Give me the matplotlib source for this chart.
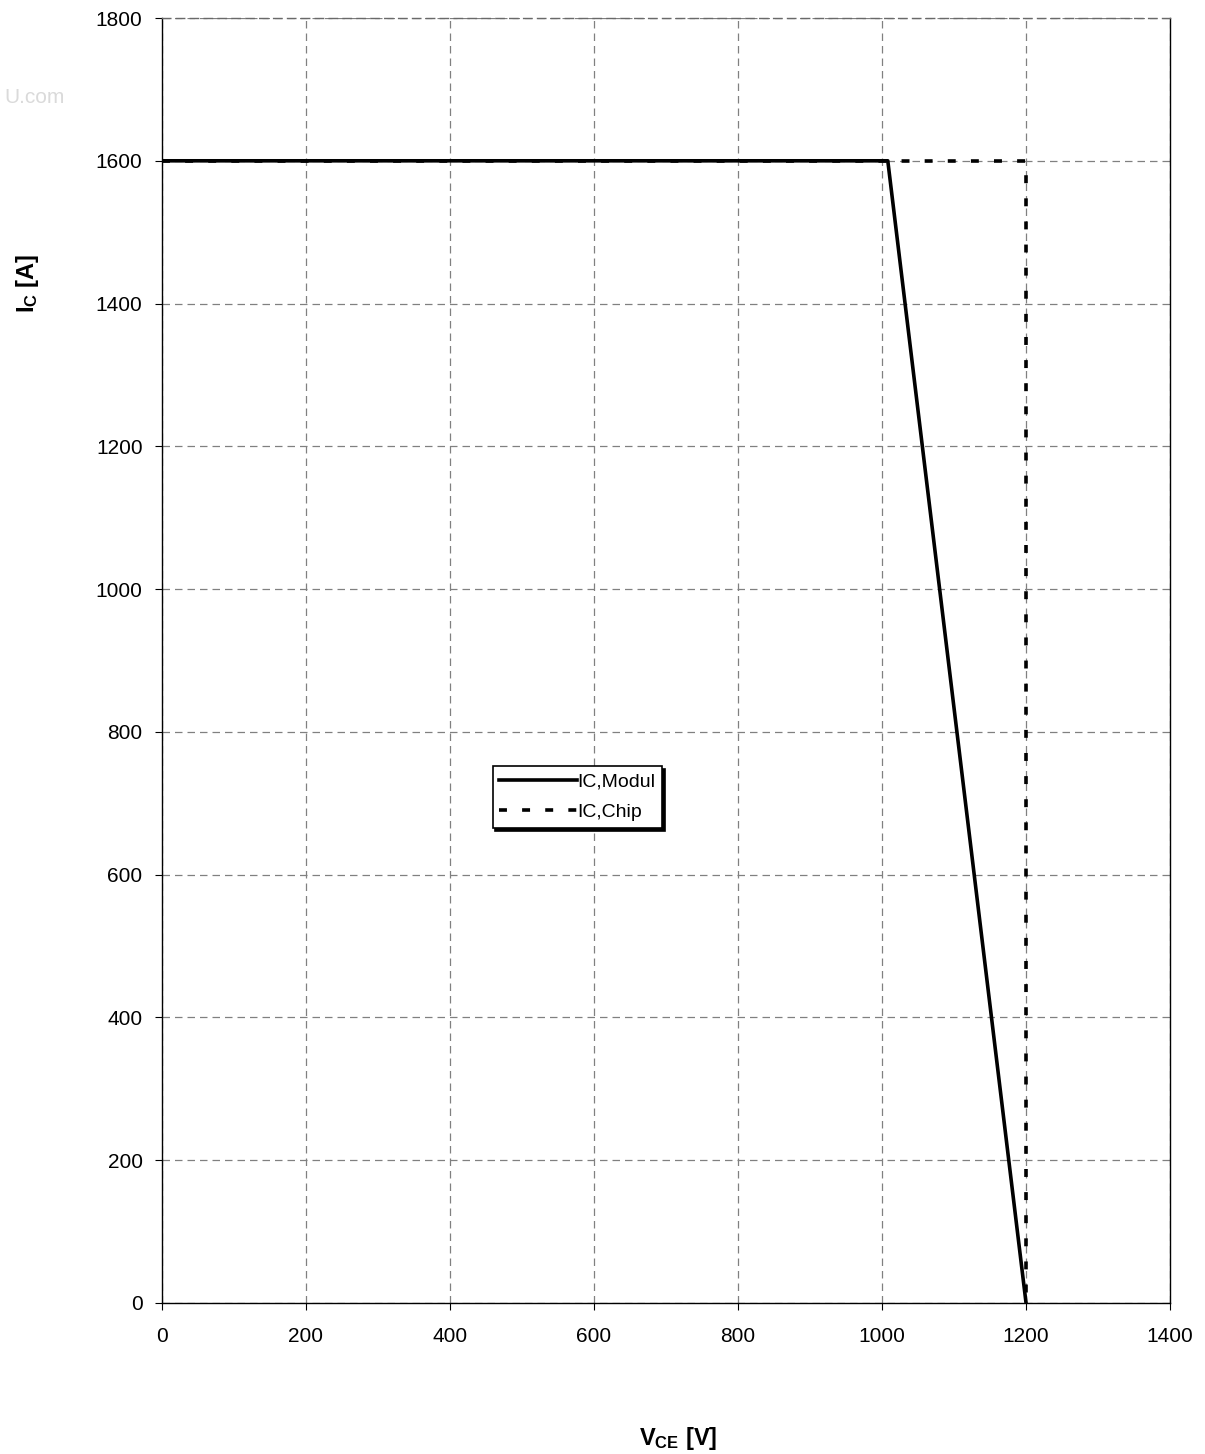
import matplotlib
matplotlib.use('Agg')
import matplotlib.pyplot as plt

matplotlib.rcParams['font.family'] = ['Liberation Sans', 'DejaVu Sans']
matplotlib.rcParams['mathtext.fontset'] = 'custom'
matplotlib.rcParams['mathtext.rm'] = 'Liberation Sans'
matplotlib.rcParams['mathtext.bf'] = 'Liberation Sans:bold'

# data
vce_modul = [0, 1008, 1200]
ic_modul = [1600, 1600, 0]
vce_chip = [0, 1200, 1200]
ic_chip = [1600, 1600, 0]

xticks = list(range(0, 1401, 200))
yticks = list(range(0, 1801, 200))

fig = plt.figure(figsize=(12.05, 14.54), dpi=100)
ax = fig.add_axes([0.1344, 0.1039, 0.8366, 0.8837])

ax.plot(vce_modul, ic_modul, 'k-', lw=2.6, label='IC,Modul', zorder=3)
ax.plot(vce_chip, ic_chip, 'k', ls=(0, (2.2, 4.2)), lw=2.6, label='IC,Chip', zorder=2)

ax.set_xlim(0, 1400)
ax.set_ylim(0, 1800)
ax.set_xticks(xticks)
ax.set_yticks(yticks)
ax.tick_params(direction='out', length=5, labelsize=15)
ax.tick_params(axis='x', pad=12)
ax.tick_params(axis='y', pad=9)
ax.grid(True, ls=(0, (6, 4)), color='gray', lw=0.9)
for s in ax.spines.values():
    s.set_linewidth(1.0)
ax.spines['top'].set_linestyle((0, (6, 4)))
ax.spines['top'].set_color('dimgray')

fig.text(0.023, 0.805, r'$\mathbf{I_C}$ [A]', rotation=90, fontsize=17,
         fontweight='bold', ha='center', va='center')
fig.text(0.563, 0.011, r'$\mathbf{V_{CE}}$ [V]', fontsize=17,
         fontweight='bold', ha='center', va='center')

# watermark (only its tail is visible in the reference)
fig.text(0.054, 0.933, 'U.com', fontsize=15, color='#dadada',
         ha='right', va='center')

leg = ax.legend(loc='upper left', bbox_to_anchor=(0.328, 0.4175), fontsize=14,
                fancybox=False, shadow={'color': 'black', 'alpha': 1},
                framealpha=1, edgecolor='black',
                handlelength=4.0, handletextpad=0.0, borderpad=0.35,
                labelspacing=0.65, borderaxespad=0)
leg.get_frame().set_linewidth(1.2)

fig.savefig('out.png', dpi=100)
